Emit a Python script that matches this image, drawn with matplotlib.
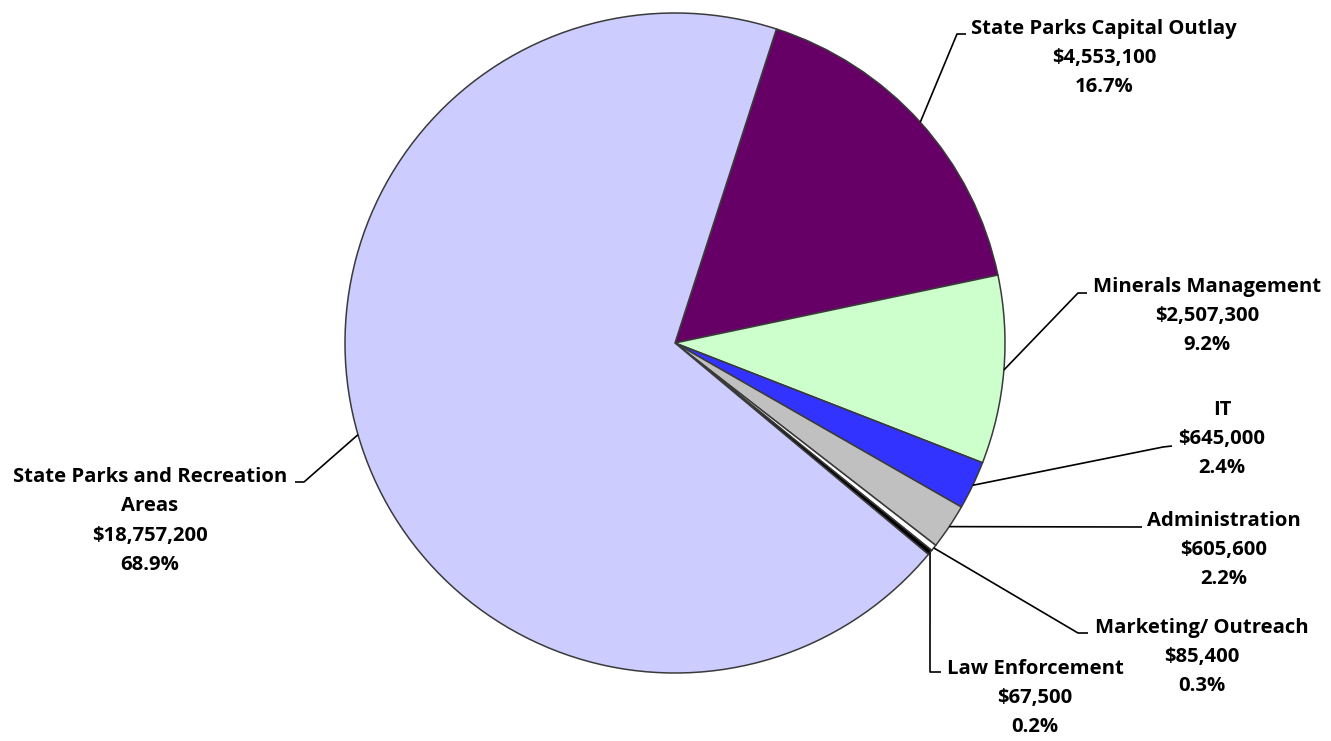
import matplotlib
matplotlib.use("Agg")
import matplotlib.pyplot as plt
import numpy as np

categories = ["State Parks Capital Outlay", "Minerals Management", "IT",
              "Administration", "Marketing/ Outreach", "Law Enforcement",
              "State Parks and Recreation\nAreas"]
values = [4553100, 2507300, 645000, 605600, 85400, 67500, 18757200]
colors = ["#660066", "#CCFFCC", "#3333FF", "#C0C0C0", "#FFFFFF", "#000000", "#CCCCFF"]

W, H = 1331, 741
CX, CY, R = 675, 343, 330

def P(px, py):
    return ((px - CX) / R, (CY - py) / R)

fig = plt.figure(figsize=(W / 100, H / 100), dpi=100)
ax = fig.add_axes([0, 0, 1, 1])
wedges, _ = ax.pie(values, colors=colors, startangle=72.1, counterclock=False,
                   radius=1, center=(0, 0),
                   wedgeprops=dict(edgecolor="#3a3a3a", linewidth=1.1))
ax.set_xlim(-CX / R, (W - CX) / R)
ax.set_ylim(-(H - CY) / R, CY / R)
ax.set_aspect("equal")
ax.axis("off")

total = sum(values)

# layout: leader-line elbow points and label centers (pixels)
leaders = [
    [(957, 34), (966, 34)],
    [(1078, 293), (1087, 293)],
    [(1163, 447), (1172, 446)],
    [(1142, 527)],
    [(1078, 633), (1088, 633)],
    [(930, 672), (941, 672)],
    [(304, 482), (295, 482)],
]
label_pos = [(1104, 58), (1207, 316), (1222, 439), (1224, 550),
             (1202, 657), (1035, 698), (150, 521)]

for w, cat, v, lead, lp in zip(wedges, categories, values, leaders, label_pos):
    mid = np.deg2rad((w.theta1 + w.theta2) / 2)
    pts = [(np.cos(mid), np.sin(mid))] + [P(*p) for p in lead]
    xs, ys = zip(*pts)
    ax.plot(xs, ys, color="black", linewidth=1.2, solid_capstyle="butt")
    txt = f"{cat}\n${v:,.0f}\n{100 * v / total:.1f}%"
    ax.text(*P(*lp), txt, ha="center", va="center", fontsize=14.6,
            fontweight="bold", family=["Open Sans", "DejaVu Sans"], linespacing=1.63)

fig.savefig("out.png", dpi=100)
